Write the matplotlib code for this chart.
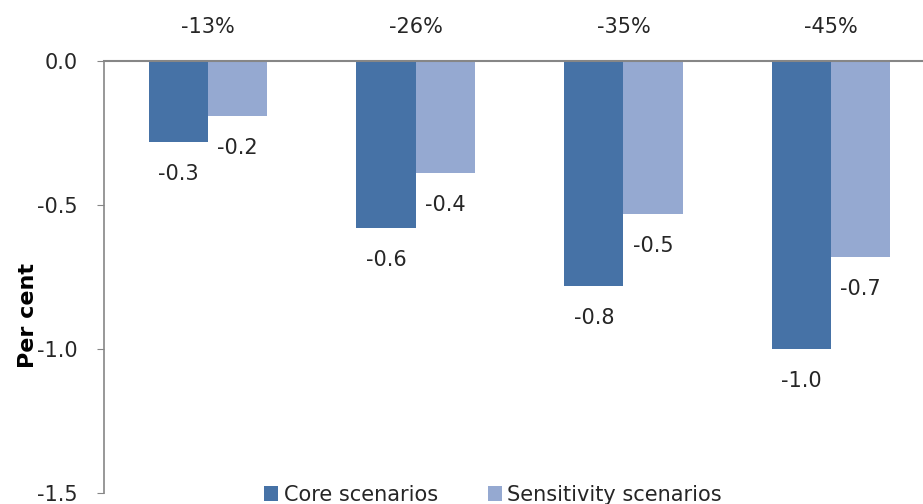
"""Bar chart of core vs sensitivity scenario impacts (per cent)."""

import matplotlib.pyplot as plt
import numpy as np

categories = ["-13%", "-26%", "-35%", "-45%"]
core = [-0.28, -0.58, -0.78, -1.0]
sensitivity = [-0.19, -0.39, -0.53, -0.68]
core_labels = ["-0.3", "-0.6", "-0.8", "-1.0"]
sens_labels = ["-0.2", "-0.4", "-0.5", "-0.7"]

CORE_COLOR = "#4672a6"
SENS_COLOR = "#95a9d1"
TEXT_COLOR = "#262626"
FS = 15

fig = plt.figure(figsize=(9.23, 5.04), dpi=100)
ax = fig.add_axes([104 / 923, 1 - 493 / 504, 831 / 923, 432 / 504])

x = np.arange(len(categories))
width = 0.285
bars_core = ax.bar(x - width / 2, core, width, color=CORE_COLOR, label="Core scenarios")
bars_sens = ax.bar(x + width / 2, sensitivity, width, color=SENS_COLOR, label="Sensitivity scenarios")

for bars, labels in ((bars_core, core_labels), (bars_sens, sens_labels)):
    for bar, text in zip(bars, labels):
        ax.annotate(
            text,
            xy=(bar.get_x() + bar.get_width() / 2, bar.get_height()),
            xytext=(0, -23),
            textcoords="offset points",
            ha="center",
            va="center",
            fontsize=FS,
            color=TEXT_COLOR,
        )

ax.set_xlim(-0.5, 3.5)
ax.set_ylim(-1.5, 0.0)
ax.set_yticks([0.0, -0.5, -1.0, -1.5])
ax.set_yticklabels(["0.0", "-0.5", "-1.0", "-1.5"], fontsize=FS, color=TEXT_COLOR)
ax.tick_params(axis="y", direction="out", length=5, color="#868686", pad=14)

ax.xaxis.tick_top()
ax.set_xticks(x)
ax.set_xticklabels(categories, fontsize=FS, color=TEXT_COLOR)
ax.tick_params(axis="x", length=0, pad=17)

for side in ("right", "bottom"):
    ax.spines[side].set_visible(False)
ax.spines["left"].set_color("#868686")
ax.spines["top"].set_color("#868686")
ax.spines["left"].set_linewidth(1.2)
ax.spines["top"].set_linewidth(1.5)

ax.set_ylabel("Per cent", fontsize=16, fontweight="bold", color="black")
ax.yaxis.set_label_coords(-0.079, 0.41)

fig.legend(
    handles=[bars_core, bars_sens],
    loc="center",
    bbox_to_anchor=(0.534, 0.018),
    ncol=2,
    frameon=False,
    fontsize=FS,
    handlelength=0.7,
    handleheight=0.7,
    handletextpad=0.25,
    columnspacing=2.4,
    labelcolor=TEXT_COLOR,
)

fig.savefig("out.png", dpi=100)
